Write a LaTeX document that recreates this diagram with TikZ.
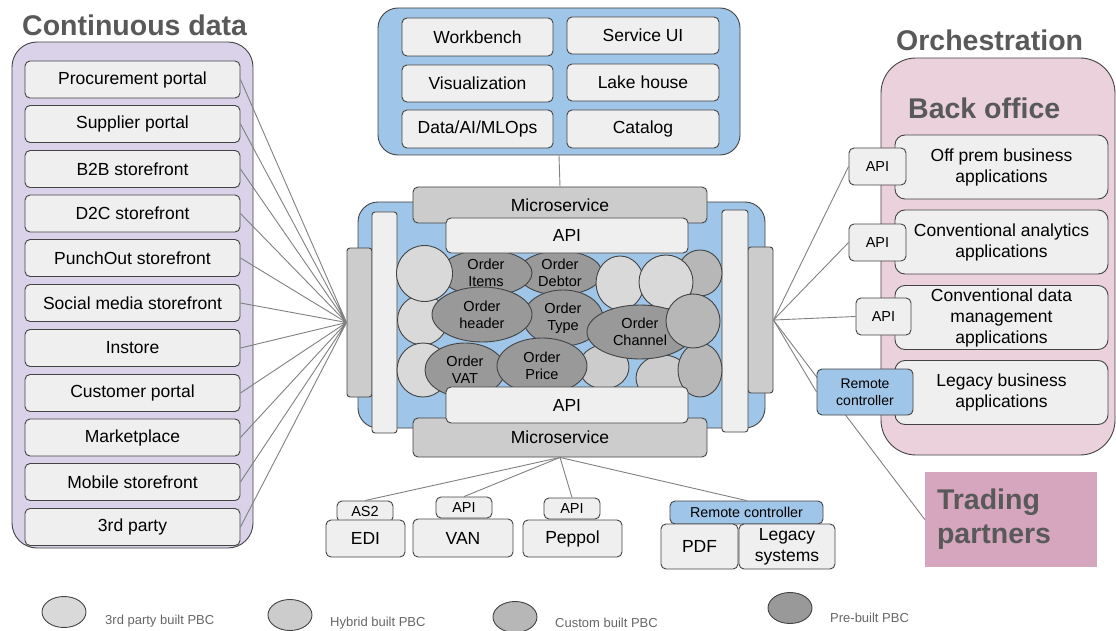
\documentclass[tikz,border=0pt]{standalone}
\usepackage{fontspec}
\setmainfont{Liberation Sans}
\usetikzlibrary{shapes.geometric}

\definecolor{lavender}{HTML}{D9D2E9}
\definecolor{skyblue}{HTML}{9FC5E8}
\definecolor{pinkbg}{HTML}{EAD1DC}
\definecolor{tradepink}{HTML}{D5A6BD}
\definecolor{boxgray}{HTML}{EFEFEF}
\definecolor{hybridgray}{HTML}{CCCCCC}
\definecolor{thirdgray}{HTML}{D9D9D9}
\definecolor{customgray}{HTML}{B7B7B7}
\definecolor{pregray}{HTML}{999999}
\definecolor{edgegray}{HTML}{434343}
\definecolor{titlegray}{HTML}{595959}
\definecolor{linkgray}{HTML}{808080}

\begin{document}
\begin{tikzpicture}[
        x=1pt, y=-1pt,
        panel/.style={rectangle, draw=edgegray, line width=0.9pt, rounded corners=25pt},
        box/.style={rectangle, draw=edgegray, line width=0.9pt, fill=boxgray, rounded corners=5pt, align=center, inner sep=1pt, font=\fontsize{17.5}{21}\selectfont},
        tab/.style={box, font=\fontsize{14.5}{17}\selectfont},
        bar/.style={rectangle, draw=edgegray, line width=0.9pt, rounded corners=3pt, minimum width=25pt},
        pbc/.style={ellipse, draw=edgegray, line width=0.9pt, inner sep=0pt, align=center, font=\fontsize{14.5}{17}\selectfont},
        title/.style={anchor=base west, inner sep=0pt, text=titlegray, font=\bfseries\fontsize{28.5}{34}\selectfont},
        link/.style={draw=linkgray, line width=0.9pt},
        legend/.style={anchor=west, inner sep=0pt, text=black!60, font=\fontsize{13}{15}\selectfont}
    ]
        \useasboundingbox (0,0) rectangle (1116,631);

        % Continuous data
        \node[title] (cdtitle) at (22,36) {Continuous data};
        \node[panel, fill=lavender, minimum width=241pt, minimum height=506pt] (cdata) at (132.5,295) {};
        \node[box, minimum width=215pt, minimum height=37pt] (proc) at (132.5,79.5) {Procurement portal};
        \node[box, minimum width=215pt, minimum height=37pt] (supp) at (132.5,124) {Supplier portal};
        \node[box, minimum width=215pt, minimum height=37pt] (btob) at (132.5,169) {B2B storefront};
        \node[box, minimum width=215pt, minimum height=37pt] (dtoc) at (132.5,213.5) {D2C storefront};
        \node[box, minimum width=215pt, minimum height=37pt] (punch) at (132.5,258) {PunchOut storefront};
        \node[box, minimum width=215pt, minimum height=37pt] (social) at (132.5,303) {Social media storefront};
        \node[box, minimum width=215pt, minimum height=37pt] (instore) at (132.5,348) {Instore};
        \node[box, minimum width=215pt, minimum height=37pt] (cust) at (132.5,393) {Customer portal};
        \node[box, minimum width=215pt, minimum height=37pt] (market) at (132.5,437.5) {Marketplace};
        \node[box, minimum width=215pt, minimum height=37pt] (mobile) at (132.5,482) {Mobile storefront};
        \node[box, minimum width=215pt, minimum height=37pt] (third) at (132.5,527) {3rd party};

        % tools on top
        \node[panel, fill=skyblue, rounded corners=20pt, minimum width=362pt, minimum height=147pt] (tools) at (559,81.5) {};
        \node[box, minimum width=151pt, minimum height=38pt] (wbench) at (477.5,37) {Workbench};
        \node[box, minimum width=152pt, minimum height=37pt] (svcui) at (643,35.5) {Service UI};
        \node[box, minimum width=151pt, minimum height=37pt] (visual) at (477.5,83.5) {Visualization};
        \node[box, minimum width=152pt, minimum height=37pt] (lake) at (643,82.5) {Lake house};
        \node[box, minimum width=151pt, minimum height=38pt] (mlops) at (477.5,129) {Data/AI/MLOps};
        \node[box, minimum width=152pt, minimum height=38pt] (catalog) at (643,129) {Catalog};

        % core with the PBCs
        \node[panel, fill=skyblue, rounded corners=20pt, minimum width=407pt, minimum height=226pt] (hub) at (561.5,315) {};
        \node[bar, fill=hybridgray, minimum height=149pt] (lbarout) at (359.5,322.5) {};
        \node[bar, fill=boxgray, minimum height=221pt] (lbarin) at (384.5,322.5) {};
        \node[bar, fill=hybridgray, minimum height=146pt] (rbarout) at (760.5,320) {};
        \node[bar, fill=boxgray, minimum width=26pt, minimum height=222pt] (rbarin) at (735,321) {};

        \node[pbc, fill=thirdgray, minimum width=50pt, minimum height=50pt] (pa) at (422.5,320) {};
        \node[pbc, fill=customgray, minimum width=44pt, minimum height=46pt] (pb) at (700,273) {};
        \node[pbc, fill=hybridgray, minimum width=50pt, minimum height=44pt] (pc) at (604,367) {};
        \node[pbc, fill=hybridgray, minimum width=54pt, minimum height=46pt] (pd) at (663,378) {};
        \node[pbc, fill=customgray, minimum width=44pt, minimum height=54pt] (pe) at (700,370) {};
        \node[pbc, fill=pregray, minimum width=84pt, minimum height=44pt] (debtor) at (560,273) {Order\\Debtor};
        \node[pbc, fill=pregray, minimum width=80pt, minimum height=56pt] (otype) at (563,318) {Order\\Type};
        \node[pbc, fill=pregray, minimum width=92pt, minimum height=46pt] (items) at (486,273) {Order\\Items};
        \node[pbc, fill=thirdgray, minimum width=56pt, minimum height=56pt] (pf) at (424.5,273.5) {};
        \node[pbc, fill=thirdgray, minimum width=52pt, minimum height=54pt] (pg) at (423,370) {};
        \node[pbc, fill=pregray, minimum width=100pt, minimum height=55pt] (header) at (482,314.5) {Order\\header};
        \node[pbc, fill=pregray, minimum width=80pt, minimum height=54pt] (vat) at (465,370) {Order\\VAT};
        \node[pbc, fill=pregray, minimum width=90pt, minimum height=56pt] (price) at (542,366) {Order\\Price};
        \node[pbc, fill=thirdgray, minimum width=48pt, minimum height=54pt] (ph) at (620,283) {};
        \node[pbc, fill=thirdgray, minimum width=54pt, minimum height=54pt] (pi) at (666,282) {};
        \node[pbc, fill=pregray, minimum width=106pt, minimum height=54pt] (channel) at (640,332) {Order\\Channel};
        \node[pbc, fill=customgray, minimum width=54pt, minimum height=54pt] (pj) at (693,321) {};

        \node[box, fill=hybridgray, minimum width=294pt, minimum height=36pt] (mstop) at (560,205) {Microservice};
        \node[box, fill=hybridgray, minimum width=294pt, minimum height=39pt] (msbot) at (560,437.5) {Microservice};
        \node[box, minimum width=242pt, minimum height=35pt] (apitop) at (567,235.5) {API};
        \node[box, minimum width=242pt, minimum height=36pt] (apibot) at (567,405) {API};

        \draw[link] (tools.south) -- (mstop.north);

        % channels below
        \node[tab, minimum width=56pt, minimum height=21pt] (as2) at (365,511.5) {AS2};
        \node[box, minimum width=79pt, minimum height=37pt] (edi) at (365.5,538.5) {EDI};
        \node[tab, minimum width=56pt, minimum height=21pt] (vanapi) at (464,507.5) {API};
        \node[box, minimum width=100pt, minimum height=38pt] (van) at (463,538) {VAN};
        \node[tab, minimum width=56pt, minimum height=21pt] (pepapi) at (572,508.5) {API};
        \node[box, minimum width=99pt, minimum height=37pt] (peppol) at (572.5,538.5) {Peppol};
        \node[tab, fill=skyblue, font=\fontsize{14.3}{17}\selectfont, minimum width=153pt, minimum height=23pt] (rcbot) at (746.5,512.5) {Remote controller};
        \node[box, minimum width=77pt, minimum height=45pt] (pdf) at (699.5,546.5) {PDF};
        \node[box, minimum width=96pt, minimum height=45pt] (legacy) at (787,546.5) {Legacy\\systems};

        \draw[link] (msbot.south) -- (as2.north);
        \draw[link] (msbot.south) -- (vanapi.north);
        \draw[link] (msbot.south) -- (pepapi.north);
        \draw[link] (msbot.south) -- (rcbot.north);

        % fan on the left
        \draw[link] (lbarout.west) -- (proc.east) (lbarout.west) -- (supp.east)
            (lbarout.west) -- (btob.east) (lbarout.west) -- (dtoc.east)
            (lbarout.west) -- (punch.east) (lbarout.west) -- (social.east)
            (lbarout.west) -- (instore.east) (lbarout.west) -- (cust.east)
            (lbarout.west) -- (market.east) (lbarout.west) -- (mobile.east)
            (lbarout.west) -- (third.east);

        % Orchestration
        \node[title] (ortitle) at (896,51) {Orchestration};
        \node[panel, fill=pinkbg, rounded corners=35pt, minimum width=234pt, minimum height=397pt] (orch) at (998,256.5) {};
        \node[title] (botitle) at (908,119) {Back office};
        \node[box, rounded corners=10pt, minimum width=213pt, minimum height=64pt] (offprem) at (1001.5,167) {Off prem business\\applications};
        \node[box, rounded corners=10pt, minimum width=213pt, minimum height=64pt] (analytics) at (1001.5,242) {Conventional analytics\\applications};
        \node[box, rounded corners=10pt, minimum width=213pt, minimum height=64pt] (datamgmt) at (1001.5,317.5) {Conventional data\\management\\applications};
        \node[box, rounded corners=10pt, minimum width=213pt, minimum height=64pt] (legbiz) at (1001.5,392.5) {Legacy business\\applications};

        \node[rectangle, fill=tradepink, minimum height=95pt, text width=148pt, inner xsep=12pt, align=left, text=titlegray, font=\bfseries\fontsize{28.5}{34}\selectfont] (trading) at (1011,519.5) {Trading\\partners};

        \draw[link] (rbarout.east) -- (trading.west);
        \node[tab, minimum width=57pt, minimum height=37pt] (api1) at (877.5,166.5) {API};
        \node[tab, minimum width=57pt, minimum height=37pt] (api2) at (877.5,242.5) {API};
        \node[tab, minimum width=55pt, minimum height=37pt] (api3) at (883.5,316.5) {API};
        \node[tab, fill=skyblue, font=\fontsize{14}{17}\selectfont, minimum width=96pt, minimum height=46pt] (rcright) at (865,392) {Remote\\controller};
        \draw[link] (rbarout.east) -- (api1.west);
        \draw[link] (rbarout.east) -- (api2.west);
        \draw[link] (rbarout.east) -- (api3.west);
        \draw[link] (rbarout.east) -- (rcright.west);

        % legend
        \node[pbc, fill=thirdgray, minimum width=44pt, minimum height=31pt] (lg3rd) at (64,612) {};
        \node[legend] (lt3rd) at (105,621) {3rd party built PBC};
        \node[pbc, fill=hybridgray, minimum width=44pt, minimum height=31pt] (lghyb) at (290,615) {};
        \node[legend] (lthyb) at (330,623) {Hybrid built PBC};
        \node[pbc, fill=customgray, minimum width=44pt, minimum height=31pt] (lgcus) at (515,617) {};
        \node[legend] (ltcus) at (555,623) {Custom built PBC};
        \node[pbc, fill=pregray, minimum width=44pt, minimum height=31pt] (lgpre) at (790,608) {};
        \node[legend] (ltpre) at (830,618) {Pre-built PBC};
    \end{tikzpicture}
\end{document}
